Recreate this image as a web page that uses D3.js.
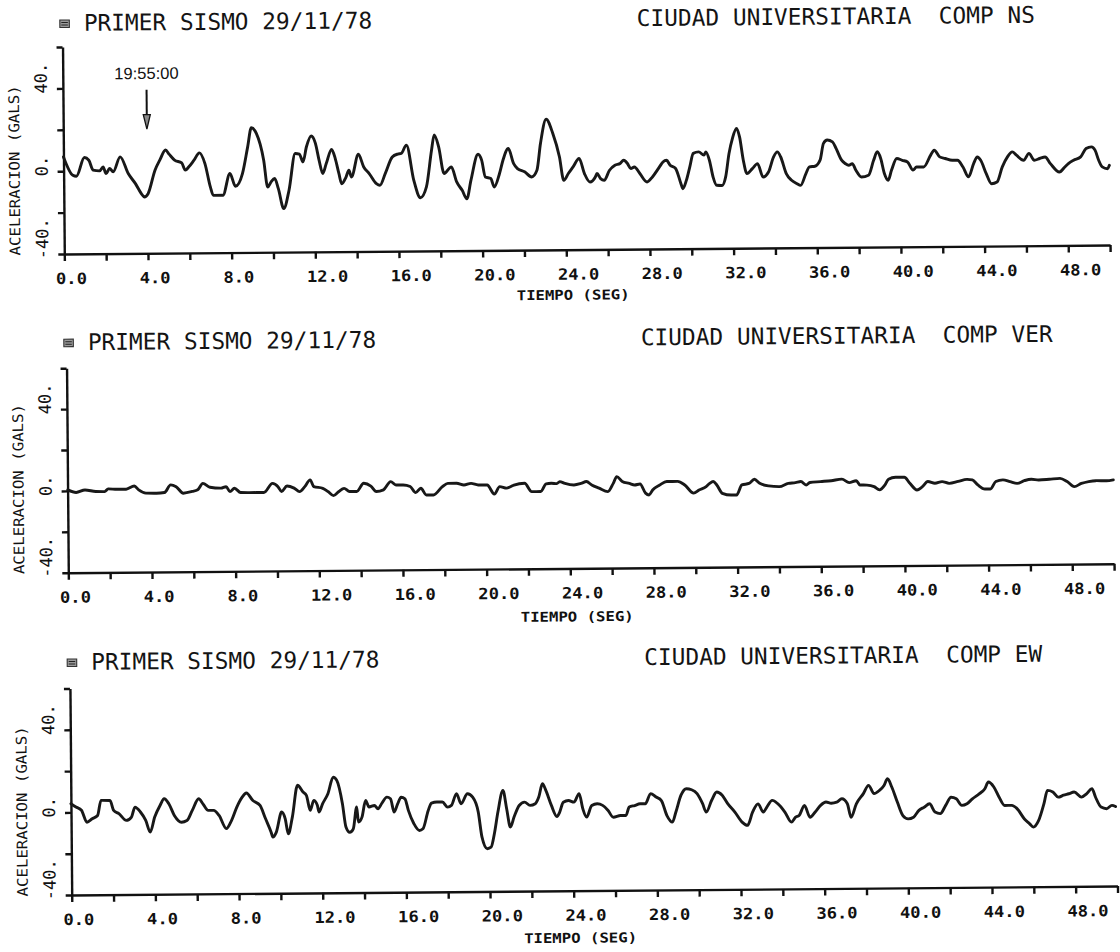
<!doctype html>
<html lang="es">
<head>
<meta charset="UTF-8">
<title>Primer sismo 29/11/78 - Ciudad Universitaria</title>
<script src="https://cdn.jsdelivr.net/npm/d3@7/dist/d3.min.js"></script>
<style>
  body { margin: 0; background: #fff; }
  svg { display: block; background: #fff; }
  .trace { fill: none; stroke: #181818; stroke-width: 2.9; stroke-linejoin: round; stroke-linecap: round; }
  .axis path, .axis line { stroke: #111; stroke-width: 2.4; }
  .title { font-family: "DejaVu Sans Mono", monospace; font-size: 22.8px; fill: #141414; white-space: pre; }
  .xtick { font-family: "DejaVu Sans Mono", monospace; font-weight: bold; font-size: 15.5px; fill: #111; }
  .ytick { font-family: "DejaVu Sans Mono", monospace; font-size: 17px; fill: #111; }
  .ytitle { font-family: "DejaVu Sans Mono", monospace; font-size: 14.5px; fill: #111; }
  .xtitle { font-family: "DejaVu Sans Mono", monospace; font-weight: bold; font-size: 13.5px; fill: #111; }
  .note { font-family: "Liberation Sans", Arial, sans-serif; font-size: 16.5px; fill: #111; }
</style>
</head>
<body>
<svg id="chart" width="1120" height="952"></svg>

<script>
// ---- data (gals vs seconds) ----

var eventTitle = "PRIMER SISMO 29/11/78";
var compTitles = ["CIUDAD UNIVERSITARIA  COMP NS",
                  "CIUDAD UNIVERSITARIA  COMP VER",
                  "CIUDAD UNIVERSITARIA  COMP EW"];

var xTicks = [0,2,4,6,8,10,12,14,16,18,20,22,24,26,28,30,32,34,36,38,40,42,44,46,48,50];
var xLabelTicks = [0,4,8,12,16,20,24,28,32,36,40,44,48];
var yTicks = [-40,-20,0,20,40,60];
var yLabelTicks = [-40,0,40];

// arrow marking 19:55:00 on the NS record
var arrowTime = 4.0, arrowLabel = "19:55:00";

// COMP NS
var nsTime = [
  0.00,0.44,0.61,1.00,1.21,1.41,1.72,1.89,2.03,2.20,
  2.37,2.71,3.09,3.43,3.77,3.85,4.03,4.37,4.62,4.88,
  5.05,5.31,5.65,5.82,5.99,6.24,6.50,6.76,7.01,7.15,
  7.61,7.95,8.21,8.55,8.81,8.99,9.23,9.57,9.75,9.91,
  10.09,10.26,10.51,10.77,11.08,11.28,11.45,11.62,11.85,12.05,
  12.22,12.39,12.56,12.82,12.99,13.16,13.29,13.50,13.64,13.76,
  14.10,14.35,14.61,14.95,15.12,15.38,15.72,15.98,16.15,16.40,
  16.74,17.05,17.34,17.60,17.73,17.94,18.19,18.54,18.79,19.05,
  19.27,19.47,19.82,19.99,20.16,20.42,20.58,20.84,21.01,21.27,
  21.52,21.70,22.04,22.38,22.63,22.81,23.09,23.40,23.71,23.91,
  24.13,24.36,24.65,24.90,25.16,25.42,25.50,25.67,25.84,26.10,
  26.36,26.61,26.78,26.96,27.12,27.29,27.55,27.89,28.15,28.49,
  28.66,28.83,29.00,29.26,29.51,29.60,29.77,29.94,30.11,30.37,
  30.62,30.71,30.88,31.05,31.22,31.48,31.65,31.82,31.99,32.19,
  32.33,32.50,32.67,32.93,33.18,33.44,33.70,33.95,34.13,34.29,
  34.55,34.80,35.06,35.23,35.49,35.66,35.92,36.17,36.34,36.52,
  36.77,36.94,37.20,37.37,37.54,37.71,37.88,38.14,38.48,38.73,
  38.91,39.07,39.24,39.42,39.58,39.84,40.10,40.35,40.61,40.78,
  41.12,41.46,41.63,41.89,42.15,42.49,42.74,43.00,43.26,43.51,
  43.69,43.85,44.11,44.36,44.62,44.88,45.13,45.36,45.56,45.90,
  46.16,46.41,46.67,46.93,47.18,47.61,47.87,48.04,48.29,48.63,
  48.89,49.15,49.32,49.49,49.66,49.91,50.00];
var nsAccel = [
  6.9,-2.0,-2.5,6.5,5.2,0.4,0.0,1.9,-1.3,1.1,
  -0.5,6.7,-1.4,-6.3,-12.0,-12.8,-11.2,0.1,5.3,9.8,
  7.8,4.9,3.5,0.0,1.6,4.8,8.3,3.1,-8.2,-12.3,
  -12.3,-1.8,-8.0,-1.9,11.0,20.2,17.5,4.5,-8.5,-6.1,
  -4.4,-9.3,-19.0,-10.1,7.6,7.3,3.5,10.8,16.0,12.4,
  4.2,-2.2,2.6,9.4,5.1,-2.2,-7.2,-4.0,-0.7,-4.0,
  7.0,0.8,-2.4,-7.3,-8.1,-2.4,5.5,6.9,7.2,11.2,
  -5.9,-14.3,-9.1,8.7,16.0,10.2,-2.7,0.5,-6.8,-10.9,
  -15.0,-6.1,6.5,3.6,-4.5,-5.3,-9.4,-2.9,3.5,9.1,
  1.8,-0.6,-2.2,-4.7,-1.5,11.4,23.1,16.3,4.9,-6.5,
  -3.2,0.0,4.0,-3.3,-7.4,-5.0,-3.3,-5.8,-6.6,-1.8,
  0.6,1.4,3.0,1.4,-1.1,-0.3,-3.5,-7.6,-5.2,-0.4,
  2.0,2.8,0.4,-1.2,-8.6,-11.0,-7.0,-0.5,6.0,6.7,
  5.1,6.7,2.6,-5.5,-9.5,-9.6,-5.5,5.8,13.1,17.9,
  13.8,2.5,-4.0,-1.6,0.8,-5.7,-3.3,4.0,6.4,3.9,
  -4.1,-7.4,-9.1,-9.9,-4.2,-1.0,-0.7,2.2,10.3,11.9,
  11.0,7.8,2.1,0.5,-0.4,0.4,-2.8,-6.1,-5.3,1.9,
  6.0,2.8,-4.5,-7.8,-3.0,2.7,1.8,1.0,-3.0,-1.5,
  -1.5,4.2,6.6,3.3,2.5,1.6,1.6,-1.7,-6.5,-0.1,
  3.1,1.5,-5.0,-9.9,-9.1,-1.8,3.0,5.4,3.8,1.3,
  4.6,1.3,2.1,2.8,-0.4,-4.5,-2.1,-0.5,1.1,2.7,
  6.7,7.5,5.9,1.0,-2.2,-3.1,-1.5];

// COMP VER
var verTime = [
  0.01,0.41,0.83,1.35,1.77,1.94,2.37,2.80,3.19,3.40,
  3.74,4.25,4.63,4.93,5.19,5.53,5.96,6.22,6.47,6.81,
  7.33,7.58,7.76,7.98,8.27,8.69,9.38,9.80,10.06,10.23,
  10.49,10.83,11.09,11.34,11.60,11.77,12.20,12.45,12.71,12.97,
  13.22,13.48,13.82,14.16,14.50,14.76,15.10,15.45,15.70,16.04,
  16.38,16.64,16.89,17.15,17.49,17.92,18.18,18.60,18.95,19.29,
  19.63,20.06,20.40,20.66,20.99,21.17,21.34,21.85,22.19,22.62,
  22.88,23.13,23.39,23.53,23.78,24.21,24.55,24.81,25.06,25.41,
  25.83,26.09,26.26,26.52,26.86,27.11,27.37,27.63,27.80,27.97,
  28.31,28.65,29.17,29.51,29.93,30.19,30.53,30.70,30.87,31.04,
  31.30,31.73,31.98,32.24,32.58,32.84,33.09,33.52,34.03,34.46,
  34.80,35.06,35.31,35.49,36.00,36.51,37.02,37.37,37.71,37.88,
  38.22,38.56,38.82,39.08,39.25,39.59,40.01,40.27,40.61,40.87,
  41.13,41.47,41.81,42.15,42.58,43.00,43.26,43.52,43.86,44.12,
  44.38,44.72,45.06,45.40,45.74,46.08,46.43,46.94,47.45,47.79,
  48.13,48.47,48.82,49.16,49.67,50.00];
var verAccel = [
  0.5,-0.8,0.4,-0.4,-0.5,0.8,0.6,0.6,2.1,0.2,
  -1.4,-1.5,-1.2,2.5,1.6,-1.6,-0.8,0.0,3.1,1.2,
  0.7,1.4,-1.0,0.6,-1.5,-1.6,-1.6,2.8,1.2,-1.2,
  1.5,0.4,-1.3,1.1,4.4,1.1,0.2,-1.4,-3.4,-1.4,
  0.1,-1.5,-1.5,2.5,1.1,-1.6,-0.8,3.2,1.5,1.5,
  0.7,-2.3,-0.2,-3.5,-3.5,0.5,2.1,2.1,1.2,2.0,
  1.2,1.1,-3.3,0.3,-0.5,0.2,1.0,1.8,-2.3,-2.3,
  1.4,1.7,1.5,2.5,1.6,0.8,1.5,2.4,0.7,-0.9,
  -2.6,1.4,4.7,2.3,1.3,0.5,1.0,-3.5,-4.4,-2.0,
  0.4,2.1,2.1,0.3,-3.7,-2.2,-0.6,1.0,1.9,0.2,
  -3.9,-4.8,-4.8,0.1,0.8,2.8,0.8,-0.5,-0.9,0.7,
  1.0,1.5,-0.2,1.0,1.4,1.8,2.5,0.8,1.7,-0.4,
  -0.5,-1.3,-2.9,-0.5,2.3,3.2,3.2,0.2,-3.1,-1.5,
  1.0,0.1,0.9,0.0,0.9,1.9,1.6,-0.9,-2.9,-2.9,
  0.7,1.5,0.6,-0.3,1.0,1.7,1.3,1.6,2.0,0.4,
  -2.1,-0.6,0.3,0.7,0.6,1.0];

// COMP EW
var ewTime = [
  0.00,0.24,0.50,0.76,1.01,1.27,1.44,1.87,2.04,2.29,
  2.64,2.89,3.06,3.32,3.57,3.78,4.00,4.26,4.46,4.68,
  4.94,5.28,5.54,5.80,6.11,6.31,6.56,6.82,7.08,7.42,
  7.67,7.93,8.19,8.39,8.70,9.04,9.30,9.56,9.64,9.81,
  10.07,10.24,10.38,10.58,10.84,11.10,11.26,11.44,11.61,11.78,
  11.86,12.03,12.29,12.55,12.72,12.98,13.14,13.32,13.49,13.66,
  13.74,13.91,14.09,14.25,14.51,14.68,14.85,15.11,15.28,15.45,
  15.62,15.79,15.97,16.13,16.39,16.65,16.82,17.08,17.24,17.50,
  17.76,18.01,18.19,18.44,18.65,18.96,19.21,19.47,19.64,19.89,
  20.07,20.23,20.41,20.66,20.83,21.00,21.18,21.43,21.69,21.95,
  22.20,22.37,22.55,22.71,22.97,23.23,23.36,23.54,23.79,24.05,
  24.30,24.47,24.65,24.90,25.16,25.42,25.67,25.93,26.27,26.53,
  26.69,26.95,27.21,27.46,27.72,27.98,28.23,28.49,28.75,28.92,
  29.17,29.43,29.68,29.94,30.20,30.37,30.63,30.88,31.14,31.40,
  31.74,32.08,32.34,32.59,32.85,33.10,33.27,33.53,33.79,34.13,
  34.44,34.64,34.81,35.07,35.33,35.58,35.84,36.10,36.35,36.61,
  36.86,37.12,37.29,37.55,37.89,38.14,38.40,38.66,38.88,39.05,
  39.25,39.51,39.77,40.02,40.28,40.54,40.79,41.05,41.31,41.56,
  41.82,42.08,42.33,42.59,42.84,43.10,43.44,43.70,43.87,44.13,
  44.38,44.64,44.98,45.23,45.58,45.83,46.00,46.26,46.52,46.69,
  46.95,47.20,47.46,47.71,47.97,48.31,48.57,48.82,48.99,49.25,
  49.51,49.77,49.94];
var ewAccel = [
  4.2,2.6,1.0,-4.8,-3.2,-1.6,5.7,5.6,0.8,-0.8,
  -4.1,-2.5,2.3,-0.1,-4.2,-9.9,-2.6,3.0,6.2,3.8,
  -1.9,-5.2,-4.4,0.5,6.1,3.6,0.4,0.4,-2.1,-8.5,
  -4.6,1.9,6.7,8.7,5.0,2.6,-3.9,-10.4,-12.8,-10.4,
  -0.7,-4.0,-11.3,-3.2,12.2,8.9,7.3,0.0,4.8,2.4,
  -0.8,3.1,8.0,16.0,14.4,3.1,-8.2,-10.8,-9.1,1.4,
  -5.9,-3.5,4.6,1.4,2.1,0.5,2.9,6.1,5.3,-1.2,
  2.8,6.0,5.2,-0.4,-6.9,-10.2,-9.4,-0.5,3.0,3.5,
  3.5,1.0,1.8,7.5,2.6,7.4,5.7,-1.5,-13.7,-19.3,
  -18.6,-12.2,-1.6,8.9,0.0,-8.9,-4.1,1.5,3.1,1.5,
  2.3,5.5,11.9,8.7,1.4,-4.0,-2.0,2.9,3.7,2.9,
  7.0,-0.3,-4.4,1.2,2.0,1.2,-1.2,-4.6,-3.8,-3.8,
  0.3,1.0,1.8,1.8,6.7,5.0,3.3,-4.0,-7.2,-2.3,
  5.8,8.9,8.4,6.5,1.6,-2.5,3.1,7.2,5.6,1.5,
  -2.6,-7.5,-9.1,-2.6,1.3,-2.7,-0.3,2.9,1.3,-2.8,
  -7.7,-5.3,-4.5,0.3,-5.4,-2.9,0.3,1.9,1.3,1.8,
  3.4,1.0,-5.6,0.9,5.8,9.8,5.8,7.3,9.7,12.9,
  8.9,1.6,-5.0,-6.6,-5.8,-2.5,-1.0,0.6,-3.4,-4.2,
  -0.2,3.7,2.9,-0.3,0.5,2.8,5.3,7.7,10.9,8.5,
  3.5,-0.5,-0.5,-2.1,-7.1,-9.5,-11.1,-7.9,0.2,6.6,
  5.8,3.3,4.2,4.9,5.7,3.2,4.9,7.3,3.1,-1.7,
  -2.5,-0.9,-1.5];

// ---- layout of the three scanned panels ----
var panelLayout = [
  {ox: 64.3, oy: 254.0, h: 207.0, titleY: -223.0, xTitleY: 50},
  {ox: 68.3, oy: 572.7, h: 204.5, titleY: -222.5, xTitleY: 53},
  {ox: 71.7, oy: 895.0, h: 206.5, titleY: -225.0, xTitleY: 52}
];
var series = [
  {time: nsTime, accel: nsAccel, comp: compTitles[0], arrow: true},
  {time: verTime, accel: verAccel, comp: compTitles[1], arrow: false},
  {time: ewTime, accel: ewAccel, comp: compTitles[2], arrow: false}
];

var tilt = -0.49;      // the scan is slightly rotated
var plotW = 1045.8;

var svg = d3.select("#chart");

series.forEach(function(s, i) {
  var L = panelLayout[i];
  var x = d3.scaleLinear().domain([0, 50]).range([0, plotW]);
  var y = d3.scaleLinear().domain([-40, 60]).range([0, -L.h]);

  var g = svg.append("g")
    .attr("transform", "translate(" + L.ox + "," + L.oy + ") rotate(" + tilt + ")");

  // titles
  var sym = g.append("g").attr("transform", "translate(-2.5," + (L.titleY - 11) + ")");
  sym.append("rect").attr("width", 9.5).attr("height", 7.5)
    .attr("fill", "#9a9a9a").attr("stroke", "#333").attr("stroke-width", 1.1);
  sym.append("path").attr("d", "M1.5,2.6H8M1.5,5H8")
    .attr("stroke", "#222").attr("stroke-width", 1);

  g.append("text").attr("class", "title").attr("x", 21.5).attr("y", L.titleY).text(eventTitle);
  g.append("text").attr("class", "title").attr("x", 574.5).attr("y", L.titleY).text(s.comp);

  // x axis
  var gx = g.append("g").attr("class", "axis")
    .call(d3.axisBottom(x).tickValues(xTicks).tickSize(7).tickSizeOuter(0)
      .tickFormat(function(d) { return xLabelTicks.indexOf(d) >= 0 ? d.toFixed(1) : ""; }));
  gx.selectAll("text")
    .attr("class", "xtick")
    .attr("text-anchor", "start")
    .attr("x", -9).attr("y", 30).attr("dy", null)
    .each(function() {
      var n = this.textContent.length;
      if (n) d3.select(this).attr("textLength", n * 10.3).attr("lengthAdjust", "spacingAndGlyphs");
    });

  // y axis
  g.append("g").attr("class", "axis")
    .call(d3.axisLeft(y).tickValues(yTicks).tickSize(6).tickSizeOuter(0).tickFormat(""));

  g.selectAll(".ytick").data(yLabelTicks).join("text")
    .attr("class", "ytick")
    .attr("transform", function(d) { return "translate(-16,"+ (y(d) + 5) + ") rotate(-90)"; })
    .text(function(d) { return d + "."; });

  g.append("text").attr("class", "ytitle")
    .attr("transform", "translate(-44,1) rotate(-90)")
    .attr("textLength", 170).attr("lengthAdjust", "spacingAndGlyphs")
    .text("ACELERACION (GALS)");

  g.append("text").attr("class", "xtitle")
    .attr("x", 452).attr("y", L.xTitleY)
    .attr("textLength", 113).attr("lengthAdjust", "spacingAndGlyphs")
    .text("TIEMPO (SEG)");

  // the record itself
  var line = d3.line()
    .x(function(d) { return x(d[0]); })
    .y(function(d) { return y(d[1]); })
    .curve(d3.curveMonotoneX);
  g.append("path").attr("class", "trace").attr("d", line(d3.zip(s.time, s.accel)));

  if (s.arrow) {
    var ax = x(arrowTime);
    g.append("text").attr("class", "note")
      .attr("x", ax).attr("y", y(44.2)).attr("text-anchor", "middle")
      .text(arrowLabel);
    g.append("line")
      .attr("x1", ax).attr("x2", ax).attr("y1", y(39)).attr("y2", y(27))
      .attr("stroke", "#111").attr("stroke-width", 2);
    g.append("path")
      .attr("d", "M" + (ax - 3.5) + "," + y(27) + "L" + (ax + 3.5) + "," + y(27) + "L" + ax + "," + y(20) + "Z")
      .attr("fill", "#8a8a8a").attr("stroke", "#111").attr("stroke-width", 1.3);
  }
});
</script>
</body>
</html>
